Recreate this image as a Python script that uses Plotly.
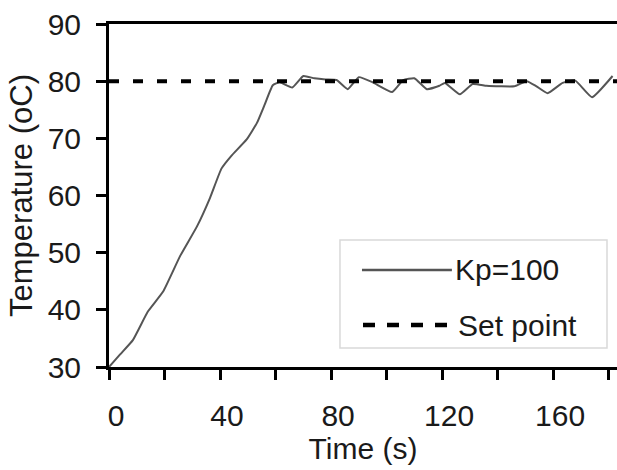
import plotly.graph_objects as go

# Data
time_s = [0, 4, 8.6, 14, 19.5, 25.6, 31.7, 36.4, 40.5, 44, 49.6, 53.3, 56, 59, 61.5,
          66, 70, 74, 78, 82, 86, 90, 95, 102, 106, 110, 114.5, 119, 121, 126.4,
          131, 136, 141, 146, 150.5, 154, 158, 163.4, 168, 174, 181.4]
temp_kp100 = [30, 32.2, 34.7, 39.7, 43.2, 49.4, 54.6, 59.6, 64.7, 66.9, 69.8, 72.7, 75.8, 79.3, 79.8,
              78.9, 80.9, 80.5, 80.3, 80.2, 78.6, 80.7, 79.8, 78.1, 80.2, 80.5, 78.6, 79.2, 79.7, 77.7,
              79.5, 79.2, 79.1, 79.1, 80.0, 79.1, 77.9, 79.7, 80.1, 77.2, 80.9]
setpoint_time = [0, 183]
setpoint_temp = [80, 80]

x_ticks = [0, 20, 40, 60, 80, 100, 120, 140, 160, 180]
x_ticktext = ["0", "", "40", "", "80", "", "120", "", "160", ""]
y_ticks = [30, 40, 50, 60, 70, 80, 90]

series_names = ["Kp=100", "Set point"]

FONT = "Liberation Sans, Arial, sans-serif"
FS = 30
TXT = "#1a1a1a"
LINE_GRAY = "#555555"

fig = go.Figure()
fig.add_trace(go.Scatter(x=time_s, y=temp_kp100, mode="lines", name=series_names[0],
                         line=dict(color=LINE_GRAY, width=2, shape="spline", smoothing=0.4),
                         showlegend=False))
fig.add_trace(go.Scatter(x=setpoint_time, y=setpoint_temp, mode="lines", name=series_names[1],
                         line=dict(color="#000000", width=4, dash="10px,14px"),
                         showlegend=False))

# Legend drawn as a box (paper coordinates)
fig.add_shape(type="rect", xref="paper", yref="paper", x0=0.4547, x1=0.9803, y0=0.0554, y1=0.370,
              line=dict(color="#d9d9d9", width=1.5), fillcolor="white", layer="above")
fig.add_shape(type="line", xref="paper", yref="paper", x0=0.498, x1=0.675, y0=0.2828, y1=0.2828,
              line=dict(color=LINE_GRAY, width=2.5), layer="above")
fig.add_shape(type="line", xref="paper", yref="paper", x0=0.500, x1=0.683, y0=0.1224, y1=0.1224,
              line=dict(color="#000000", width=4.5, dash="12px,12px"), layer="above")
fig.add_annotation(xref="paper", yref="paper", x=0.677, y=0.2828, text=series_names[0],
                   showarrow=False, xanchor="left", yanchor="middle",
                   font=dict(family=FONT, size=FS, color=TXT))
fig.add_annotation(xref="paper", yref="paper", x=0.683, y=0.1224, text=series_names[1],
                   showarrow=False, xanchor="left", yanchor="middle",
                   font=dict(family=FONT, size=FS, color=TXT))

fig.update_layout(
    width=617, height=470,
    margin=dict(l=109, r=0, t=24, b=103, autoexpand=False),
    paper_bgcolor="white", plot_bgcolor="white",
    font=dict(family=FONT, size=FS, color=TXT),
    showlegend=False,
)
fig.update_xaxes(range=[0, 183], tickmode="array", tickvals=x_ticks, ticktext=x_ticktext,
                 ticks="outside", ticklen=10, tickwidth=2.5, tickcolor="#000",
                 showline=True, linewidth=3, linecolor="#000", mirror=True, automargin=False,
                 showgrid=False, zeroline=False, ticklabelshift=7, ticklabelstandoff=10,
                 tickfont=dict(family=FONT, size=FS, color=TXT),
                 title=dict(text="Time (s)", standoff=0, font=dict(family=FONT, size=FS, color=TXT)))
fig.update_yaxes(range=[30, 90], tickmode="array", tickvals=y_ticks,
                 ticks="outside", ticklen=10, tickwidth=2.5, tickcolor="#000",
                 showline=True, linewidth=3, linecolor="#000", mirror=False, automargin=False,
                 showgrid=False, zeroline=False, ticklabelstandoff=9,
                 tickfont=dict(family=FONT, size=FS, color=TXT),
                 title=dict(text="Temperature (oC)", standoff=6, font=dict(family=FONT, size=31, color=TXT)))

fig.write_html("out.html", config={"displayModeBar": False},
               post_script="document.body.style.margin='0';document.body.style.overflow='hidden';")
